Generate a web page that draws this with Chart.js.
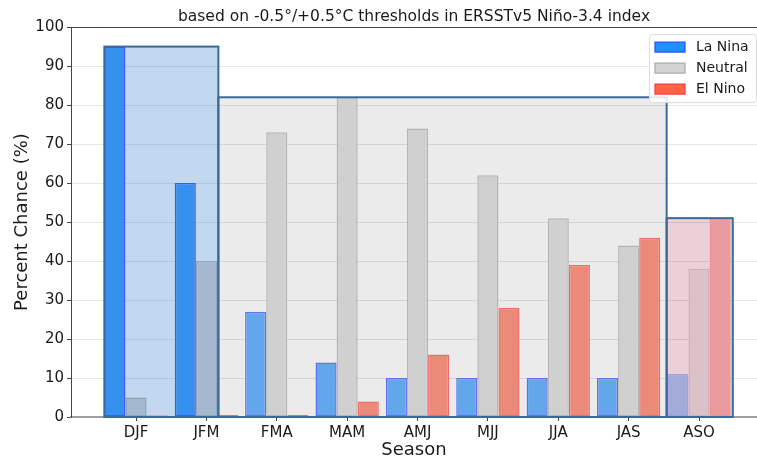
<!DOCTYPE html>
<html lang="en">
<head>
  <meta charset="UTF-8">
  <title>ENSO Probabilities</title>
  <script src="https://cdn.jsdelivr.net/npm/chart.js"></script>
  <style>
    body { margin: 0; background: #fff; font-family: "DejaVu Sans", sans-serif; }
    .chart-container { width: 757px; height: 462px; position: relative; }
  </style>
</head>
<body>

<div class="chart-container">
  <canvas id="ensoChart"></canvas>
</div>

<script>
  // Seasons and forecast probabilities (%)
  const seasons = ['DJF', 'JFM', 'FMA', 'MAM', 'AMJ', 'MJJ', 'JJA', 'JAS', 'ASO'];
  const laNina  = [95, 60, 27, 14, 10, 10, 10, 10, 11];
  const neutral = [5, 40, 73, 82, 74, 62, 51, 44, 38];
  const elNino  = [0, 0, 0, 4, 16, 28, 39, 46, 51];
  const yTicks  = [0, 10, 20, 30, 40, 50, 60, 70, 80, 90, 100];

  // Shaded boxes showing the dominant category (season index range + height)
  const boxStart = [-0.45, 1.17, 7.54];
  const boxEnd   = [1.17, 7.54, 8.48];
  const boxTop   = [95, 82, 51];

  const seriesNames = ['La Nina', 'Neutral', 'El Nino'];
  const seriesData = [laNina, neutral, elNino];

  // colours: [blue box, grey box, pink box] for each series
  const fills = [
    ['#3591ef', '#62a7eb', '#a3abd9'],
    ['#a4b9cf', '#d0d0d0', '#dcc1c9'],
    ['#e8b4bc', '#ec8a79', '#e99b9d']
  ];
  const edges = [
    ['#3c5cf2', '#6670ee', '#a39ce2'],
    ['#8fa4bb', '#b5b5b5', '#cdb1b9'],
    ['#eba0a8', '#f06b6b', '#ee9094']
  ];
  const boxFill = ['rgba(30,110,200,0.27)', 'rgba(0,0,0,0.08)', 'rgba(160,20,60,0.2)'];
  const legendFill = ['#1e90ff', '#d3d3d3', '#ff6347'];
  const legendEdge = ['#2a4cf5', '#a8a8a8', '#f03c3c'];

  function regionOf(x) {
    for (let b = 0; b < boxStart.length; b++) {
      if (x >= boxStart[b] && x < boxEnd[b]) return b;
    }
    return 1;
  }

  function barColor(table, s) {
    return ctx => table[s][regionOf(ctx.dataIndex + (s - 1) * 0.3)];
  }

  const datasets = seriesData.map((vals, s) => ({
    label: seriesNames[s],
    data: vals.map((v, i) => ({ x: i, y: v })),
    backgroundColor: barColor(fills, s),
    borderColor: barColor(edges, s),
    borderWidth: 1.5,
    borderSkipped: false,
    minBarLength: s === 2 ? 2 : 0,
    categoryPercentage: 0.9,
    barPercentage: 1.0
  }));

  // draws the shaded boxes under the bars, outlines above
  const boxPlugin = {
    id: 'boxes',
    beforeDatasetsDraw(chart) {
      const { ctx, chartArea, scales: { x, y } } = chart;
      ctx.save();
      ctx.beginPath();
      ctx.rect(chartArea.left, chartArea.top, chartArea.right - chartArea.left, chartArea.bottom - chartArea.top);
      ctx.clip();
      boxStart.forEach((b, i) => {
        const x0 = x.getPixelForValue(b), x1 = x.getPixelForValue(boxEnd[i]);
        const y0 = y.getPixelForValue(boxTop[i]), y1 = y.getPixelForValue(0);
        ctx.fillStyle = boxFill[i];
        ctx.fillRect(x0, y0, x1 - x0, y1 - y0);
      });
      ctx.restore();
    },
    afterDatasetsDraw(chart) {
      const { ctx, scales: { x, y } } = chart;
      ctx.save();
      ctx.strokeStyle = '#3b6a98';
      ctx.lineWidth = 2;
      boxStart.forEach((b, i) => {
        const x0 = x.getPixelForValue(b), x1 = x.getPixelForValue(boxEnd[i]);
        const y0 = y.getPixelForValue(boxTop[i]), y1 = y.getPixelForValue(0);
        ctx.strokeRect(x0, y0, x1 - x0, y1 - y0);
      });
      ctx.restore();
    }
  };

  // legend inside the plot, top right
  const legendPlugin = {
    id: 'insideLegend',
    afterDraw(chart) {
      const { ctx, chartArea } = chart;
      const w = 107, h = 68;
      const lx = chartArea.right - w - 1, ly = chartArea.top + 7;
      ctx.save();
      ctx.fillStyle = 'rgba(255,255,255,0.85)';
      ctx.strokeStyle = '#dddddd';
      ctx.lineWidth = 1;
      ctx.beginPath();
      ctx.roundRect(lx + 0.5, ly + 0.5, w, h, 3);
      ctx.fill();
      ctx.stroke();
      ctx.font = '14px "DejaVu Sans"';
      ctx.textBaseline = 'middle';
      seriesNames.forEach((name, i) => {
        const cy = ly + 13 + i * 21;
        ctx.fillStyle = legendFill[i];
        ctx.fillRect(lx + 6, cy - 5, 30, 10);
        ctx.strokeStyle = legendEdge[i];
        ctx.lineWidth = 1.2;
        ctx.strokeRect(lx + 6, cy - 5, 30, 10);
        ctx.fillStyle = '#1a1a1a';
        ctx.fillText(name, lx + 47, cy);
      });
      ctx.restore();
    }
  };

  const ctx = document.getElementById('ensoChart').getContext('2d');
  new Chart(ctx, {
    type: 'bar',
    data: { datasets: datasets },
    plugins: [boxPlugin, legendPlugin],
    options: {
      responsive: true,
      maintainAspectRatio: false,
      animation: false,
      layout: { padding: 0 },
      font: { family: '"DejaVu Sans", sans-serif' },
      plugins: {
        legend: { display: false },
        tooltip: { enabled: false },
        title: {
          display: true,
          fullSize: false,
          text: 'based on -0.5°/+0.5°C thresholds in ERSSTv5 Niño-3.4 index',
          color: '#1a1a1a',
          font: { family: '"DejaVu Sans"', size: 15.5, weight: 'normal' },
          padding: { top: 7.5, bottom: 1 }
        }
      },
      scales: {
        x: {
          type: 'linear',
          offset: false,
          min: -0.924,
          max: 8.824,
          afterBuildTicks: scale => { scale.ticks = seasons.map((s, i) => ({ value: i })); },
          afterFit: scale => { scale.height = 45; },
          ticks: {
            callback: v => seasons[v],
            color: '#1a1a1a',
            font: { family: '"DejaVu Sans"', size: 15 },
            padding: 3,
            maxRotation: 0,
            autoSkip: false
          },
          grid: { offset: false, drawOnChartArea: false, tickLength: 4, tickColor: '#444', tickWidth: 1 },
          border: { color: '#a0a0a0', width: 2 },
          title: {
            display: true,
            text: 'Season',
            color: '#1a1a1a',
            font: { family: '"DejaVu Sans"', size: 18 },
            padding: { top: 0, bottom: 1 }
          }
        },
        y: {
          min: 0,
          max: 100,
          afterBuildTicks: scale => { scale.ticks = yTicks.map(v => ({ value: v })); },
          afterFit: scale => { scale.width = 71; },
          ticks: {
            color: '#1a1a1a',
            font: { family: '"DejaVu Sans"', size: 15 },
            padding: 3
          },
          grid: {
            color: c => c.tick && c.tick.value === 100 ? '#444' : '#e6e6e6',
            lineWidth: 1,
            tickLength: 4,
            tickColor: '#444'
          },
          border: { color: '#444', width: 1 },
          title: {
            display: true,
            text: 'Percent Chance (%)',
            color: '#1a1a1a',
            font: { family: '"DejaVu Sans"', size: 18 },
            padding: { top: 12, bottom: 0 }
          }
        }
      }
    }
  });
</script>

</body>
</html>
